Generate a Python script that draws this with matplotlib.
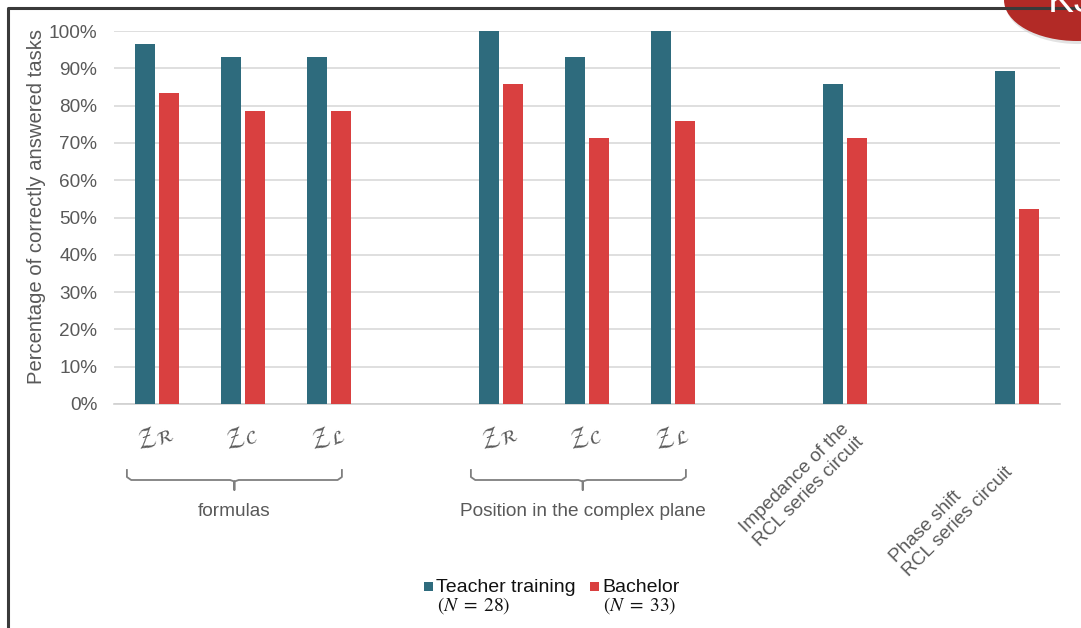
import matplotlib
matplotlib.use("Agg")
import matplotlib.pyplot as plt
from matplotlib.lines import Line2D
from matplotlib.patches import Ellipse, Rectangle
import numpy as np

plt.rcParams['font.family'] = ['Liberation Sans', 'DejaVu Sans']

# Data: share of correctly answered tasks (%)
slots = [0, 1, 2, 4, 5, 6, 8, 10]
tick_labels = [r'$\mathcal{Z}_{\mathcal{R}}$', r'$\mathcal{Z}_{\mathcal{C}}$', r'$\mathcal{Z}_{\mathcal{L}}$',
               r'$\mathcal{Z}_{\mathcal{R}}$', r'$\mathcal{Z}_{\mathcal{C}}$', r'$\mathcal{Z}_{\mathcal{L}}$']
long_labels = ['Impedance of the\nRCL series circuit', 'Phase shift\nRCL series circuit']
teacher = [96.4, 92.9, 92.9, 100.0, 92.9, 100.0, 85.7, 89.3]
bachelor = [83.3, 78.5, 78.5, 85.7, 71.4, 76.0, 71.4, 52.4]
groups = ['formulas', 'Position in the complex plane']
series_names = ['Teacher training', 'Bachelor']
series_n = ['$(N\\;=\\;28)$', '$(N\\;=\\;33)$']

TEAL = '#2E6B7D'
RED = '#D94040'
TXT = '#595959'
FS = 13.7

W, H = 1081, 628
fig = plt.figure(figsize=(W / 100, H / 100), dpi=100)
ax = fig.add_axes([114 / W, 1 - 404 / H, (1060 - 114) / W, (404 - 31) / H])

x = np.array(slots, dtype=float)
bw = 0.235
gap = 0.045
b1 = ax.bar(x - (bw + gap) / 2, teacher, bw, color=TEAL, zorder=3)
b2 = ax.bar(x + (bw + gap) / 2, bachelor, bw, color=RED, zorder=3)

ax.set_xlim(-0.5, 10.5)
ax.set_ylim(0, 100)
ax.set_yticks(np.arange(0, 101, 10))
ax.set_yticklabels([f'{v}%' for v in range(0, 101, 10)], fontsize=FS, color=TXT)
ax.yaxis.grid(True, color='#D9D9D9', linewidth=1.2, zorder=0)
ax.set_axisbelow(True)
for s in ['top', 'right', 'left']:
    ax.spines[s].set_visible(False)
ax.spines['bottom'].set_color('#D0D0D0')
ax.spines['bottom'].set_linewidth(1.2)
ax.tick_params(axis='both', length=0)
ax.tick_params(axis='y', pad=12)
ax.set_xticks([])
ax.set_ylabel('Percentage of correctly answered tasks', fontsize=14.6, color=TXT)
ax.yaxis.set_label_coords((46 - 114) / 946, (404 - 206) / 373)


def ay(py):
    return (404 - py) / 373.0


trans = ax.get_xaxis_transform()

# Impedance symbols under the first two groups
for s, lab in zip(slots[:6], tick_labels):
    ax.text(s - 0.03, ay(437), lab, transform=trans, rotation=22, ha='center', va='center',
            fontsize=19, color=TXT, clip_on=False)

# Group brackets
def bracket(x0, x1, xc, label):
    yt, yb, ytip = ay(470), ay(480), ay(490)
    r = 0.05
    xs = [x0, x0, x0 + r, xc - r, xc, xc, xc, xc + r, x1 - r, x1, x1]
    ys = [yt, yb + 0.008, yb, yb, yb - 0.004, ytip, yb - 0.004, yb, yb, yb + 0.008, yt]
    ax.add_line(Line2D(xs, ys, transform=trans, color='#7F7F7F', linewidth=1.3, clip_on=False,
                       solid_joinstyle='round'))
    ax.text(xc, ay(512), label, transform=trans, ha='center', va='center', fontsize=FS,
            color=TXT, clip_on=False)

bracket(-0.35, 2.15, 0.9, groups[0])
bracket(3.65, 6.15, 4.95, groups[1])

# Rotated category labels
fig.text(867 / W, 1 - 420 / H, long_labels[0], rotation=45, ha='right', va='top',
         fontsize=FS, color=TXT, multialignment='left', linespacing=1.15)
fig.text(1016 / W, 1 - 450 / H, long_labels[1], rotation=45, ha='right', va='top',
         fontsize=FS, color=TXT, multialignment='left', linespacing=1.15)

# Legend: coloured square, series name, sample size beneath
for bars, name, nlab, px in [(b1, series_names[0], series_n[0], 424),
                             (b2, series_names[1], series_n[1], 590)]:
    col = bars.patches[0].get_facecolor()
    fig.add_artist(Rectangle((px / W, 1 - 591 / H), 9 / W, 9 / H, transform=fig.transFigure,
                             facecolor=col, edgecolor='none'))
    fig.text((px + 12) / W, 1 - 587 / H, name, fontsize=14, color='#111111', ha='left', va='center')
    fig.text((px + 13) / W, 1 - 606 / H, nlab, fontsize=14, color='#111111', ha='left',
             va='center', math_fontfamily='stix')

# Outer frame
fig.add_artist(Line2D([8 / W, 8 / W, 1.0], [0.0, 1 - 8 / H, 1 - 8 / H], transform=fig.transFigure,
                      color='#3A3A3A', linewidth=2.2))

# Badge in the corner
fig.add_artist(Ellipse((1077 / W + 0.001, 1 - 0 / H - 0.004), 146 / W, 83 / H, transform=fig.transFigure,
                       facecolor='#C8C8C8', edgecolor='none', alpha=0.5))
fig.add_artist(Ellipse((1077 / W, 1 - 0 / H), 146 / W, 82 / H, transform=fig.transFigure,
                       facecolor='#B22A26', edgecolor='none'))
fig.text(1072 / W, 1 - 2 / H, 'K3', color='white', fontsize=28, ha='center', va='center')

fig.savefig('out.png', dpi=100)
